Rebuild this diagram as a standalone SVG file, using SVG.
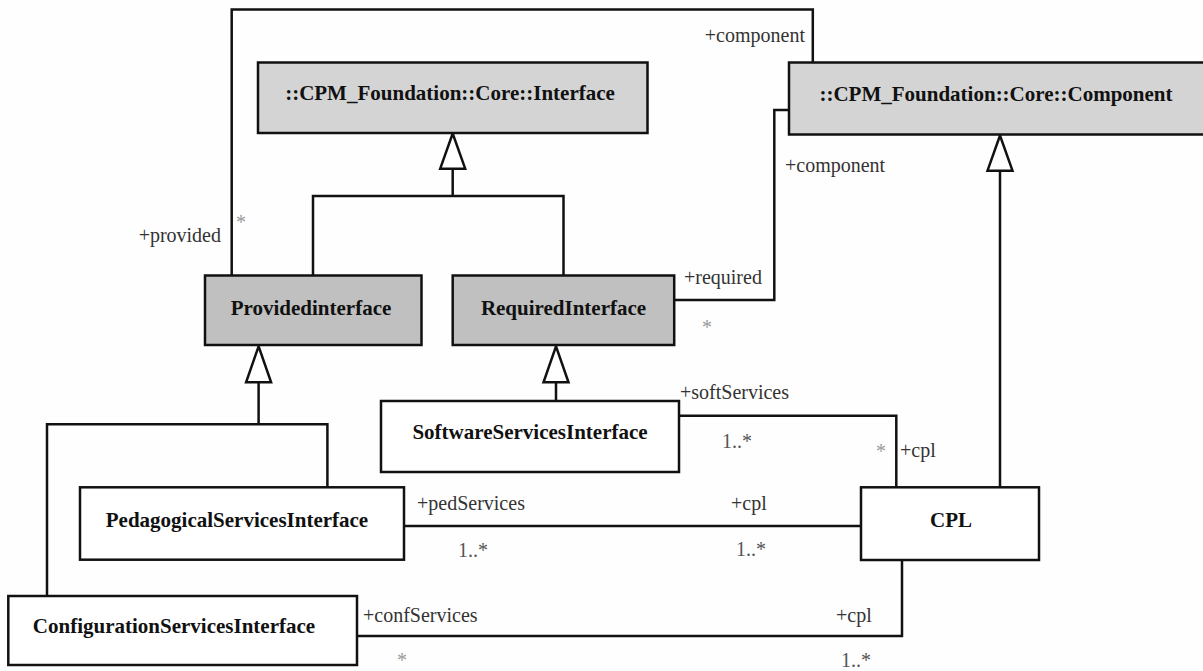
<svg xmlns="http://www.w3.org/2000/svg" width="1203" height="671" viewBox="0 0 1203 671">
<style>
.box{stroke:#111;stroke-width:2.5}
.lt{fill:#d4d4d4}
.dk{fill:#c0c0c0}
.wh{fill:#ffffff}
text{font-family:'Liberation Serif','DejaVu Serif',serif}
.title{font-size:21px;font-weight:bold;fill:#111;text-anchor:middle}
.lbl{font-size:20px;fill:#333}
.mul{font-size:20px;fill:#555}
.ast{fill:#999}
.ln{fill:none;stroke:#111;stroke-width:2.5}
.tri{fill:#fff;stroke:#111;stroke-width:2.5;stroke-linejoin:miter}
</style>
<rect width="1203" height="671" fill="#fefefe"/>
<g id="connectors" font-family="Liberation Serif, serif">
  <path class="ln" d="M231.7,275.5 V9.5 H812.8 V62.5"/>
  <path class="ln" d="M674.2,300 H774.3 V110 H789"/>
  <path class="ln" d="M452.7,168.7 V196 M313,275.5 V196 H563.5 V275.5"/>
  <polygon class="tri" points="452.7,133.5 440.2,168.7 465.2,168.7"/>
  <path class="ln" d="M1000,170.7 V487.3"/>
  <polygon class="tri" points="1000,135.5 987.5,170.7 1012.5,170.7"/>
  <path class="ln" d="M258.6,382.3 V424.3 M47,596 V424.3 H327.4 V487.3"/>
  <polygon class="tri" points="258.6,346.3 246.1,382.3 271.1,382.3"/>
  <path class="ln" d="M556,382.3 V401"/>
  <polygon class="tri" points="556,346.3 543.5,382.3 568.5,382.3"/>
  <path class="ln" d="M679,415.7 H896.3 V487.3"/>
  <path class="ln" d="M404,526 H861"/>
  <path class="ln" d="M357,636 H902 V560"/>

  <text class="lbl" x="221" y="242" text-anchor="end">+provided</text>
  <text class="mul ast" x="236" y="229">*</text>
  <text class="lbl" x="805" y="42" text-anchor="end">+component</text>
  <text class="lbl" x="684" y="284">+required</text>
  <text class="mul ast" x="702" y="334">*</text>
  <text class="lbl" x="785" y="172">+component</text>
  <text class="lbl" x="680" y="399">+softServices</text>
  <text class="mul" x="722" y="448">1..*</text>
  <text class="mul ast" x="876" y="458">*</text>
  <text class="lbl" x="900" y="457">+cpl</text>
  <text class="lbl" x="417" y="510">+pedServices</text>
  <text class="mul" x="458" y="557">1..*</text>
  <text class="lbl" x="731" y="510">+cpl</text>
  <text class="mul" x="736" y="556">1..*</text>
  <text class="lbl" x="363" y="622">+confServices</text>
  <text class="mul ast" x="397" y="667">*</text>
  <text class="lbl" x="836" y="622">+cpl</text>
  <text class="mul" x="841" y="667">1..*</text>
</g>
<g id="node-interface">
  <rect class="box lt" x="258" y="62.5" width="389.5" height="70.5"/>
  <text class="title" x="450" y="100">::CPM_Foundation::Core::Interface</text>
</g>
<g id="node-component">
  <rect class="box lt" x="789" y="62.5" width="418" height="72"/>
  <text class="title" x="996" y="101">::CPM_Foundation::Core::Component</text>
</g>
<g id="node-provided">
  <rect class="box dk" x="205" y="275.5" width="216.5" height="69.5"/>
  <text class="title" x="311" y="315">Providedinterface</text>
</g>
<g id="node-required">
  <rect class="box dk" x="452.7" y="275.5" width="221.5" height="69.5"/>
  <text class="title" x="563.5" y="315">RequiredInterface</text>
</g>
<g id="node-software">
  <rect class="box wh" x="381" y="401" width="298" height="71"/>
  <text class="title" x="530" y="439">SoftwareServicesInterface</text>
</g>
<g id="node-pedagogical">
  <rect class="box wh" x="80" y="487.3" width="324" height="72.4"/>
  <text class="title" x="237" y="527">PedagogicalServicesInterface</text>
</g>
<g id="node-configuration">
  <rect class="box wh" x="8.3" y="596" width="348.7" height="69"/>
  <text class="title" x="174" y="633">ConfigurationServicesInterface</text>
</g>
<g id="node-cpl">
  <rect class="box wh" x="861" y="487.3" width="178" height="72.7"/>
  <text class="title" x="951" y="527">CPL</text>
</g>
</svg>
